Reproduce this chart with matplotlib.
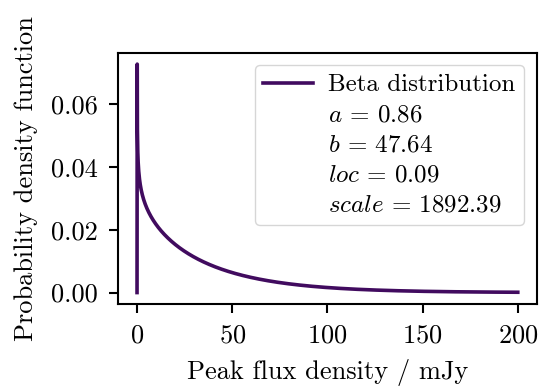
import math
import numpy as np
import matplotlib
matplotlib.use("Agg")
import matplotlib.pyplot as plt
from matplotlib.lines import Line2D

# Fitted beta-distribution parameters
a_param = 0.86
b_param = 47.64
loc_param = 0.09
scale_param = 1892.39

# Evaluation range for the peak flux density (mJy)
x_min = 0.0
x_max = 200.0
n_points = 2000

curve_color = "#410b5f"


def beta_pdf(x, a, b, loc, scale):
    y = (np.asarray(x, dtype=float) - loc) / scale
    log_beta = math.lgamma(a) + math.lgamma(b) - math.lgamma(a + b)
    out = np.zeros_like(y)
    inside = (y > 0) & (y < 1)
    yi = y[inside]
    out[inside] = np.exp((a - 1) * np.log(yi) + (b - 1) * np.log1p(-yi) - log_beta) / scale
    return out


plt.rcParams.update({
    "font.family": "serif",
    "font.serif": ["cmr10"],
    "mathtext.fontset": "cm",
    "axes.formatter.use_mathtext": True,
    "font.size": 19,
    "axes.linewidth": 1.5,
    "xtick.major.width": 1.5,
    "ytick.major.width": 1.5,
    "xtick.major.size": 6.5,
    "ytick.major.size": 6.5,
    "xtick.major.pad": 8,
    "ytick.major.pad": 8,
})

x = np.linspace(x_min, x_max, n_points)
pdf = beta_pdf(x, a_param, b_param, loc_param, scale_param)

fig = plt.figure(figsize=(5.45, 3.87), dpi=100)
ax = fig.add_axes([0.2165, 0.2145, 0.7685, 0.6493])

ax.plot(x, pdf, color=curve_color, lw=2.6, label="Beta distribution")

ax.set_xlabel("Peak flux density / mJy", labelpad=8)
ax.set_ylabel("Probability density function", labelpad=9)
ax.set_xticks([0, 50, 100, 150, 200])
ax.set_yticks([0.0, 0.02, 0.04, 0.06])
ax.yaxis.set_major_formatter(matplotlib.ticker.FormatStrFormatter("%.2f"))

handles, labels = ax.get_legend_handles_labels()
param_labels = [
    rf"$a$ = {a_param:.2f}",
    rf"$b$ = {b_param:.2f}",
    rf"$loc$ = {loc_param:.2f}",
    rf"$scale$ = {scale_param:.2f}",
]
for lab in param_labels:
    handles.append(Line2D([], [], color="none"))
    labels.append(lab)
ax.legend(handles, labels, loc="upper right", fontsize=18,
          handlelength=2.0, handletextpad=0.6, labelspacing=0.3,
          borderpad=0.35)

fig.savefig("out.png", dpi=100)
